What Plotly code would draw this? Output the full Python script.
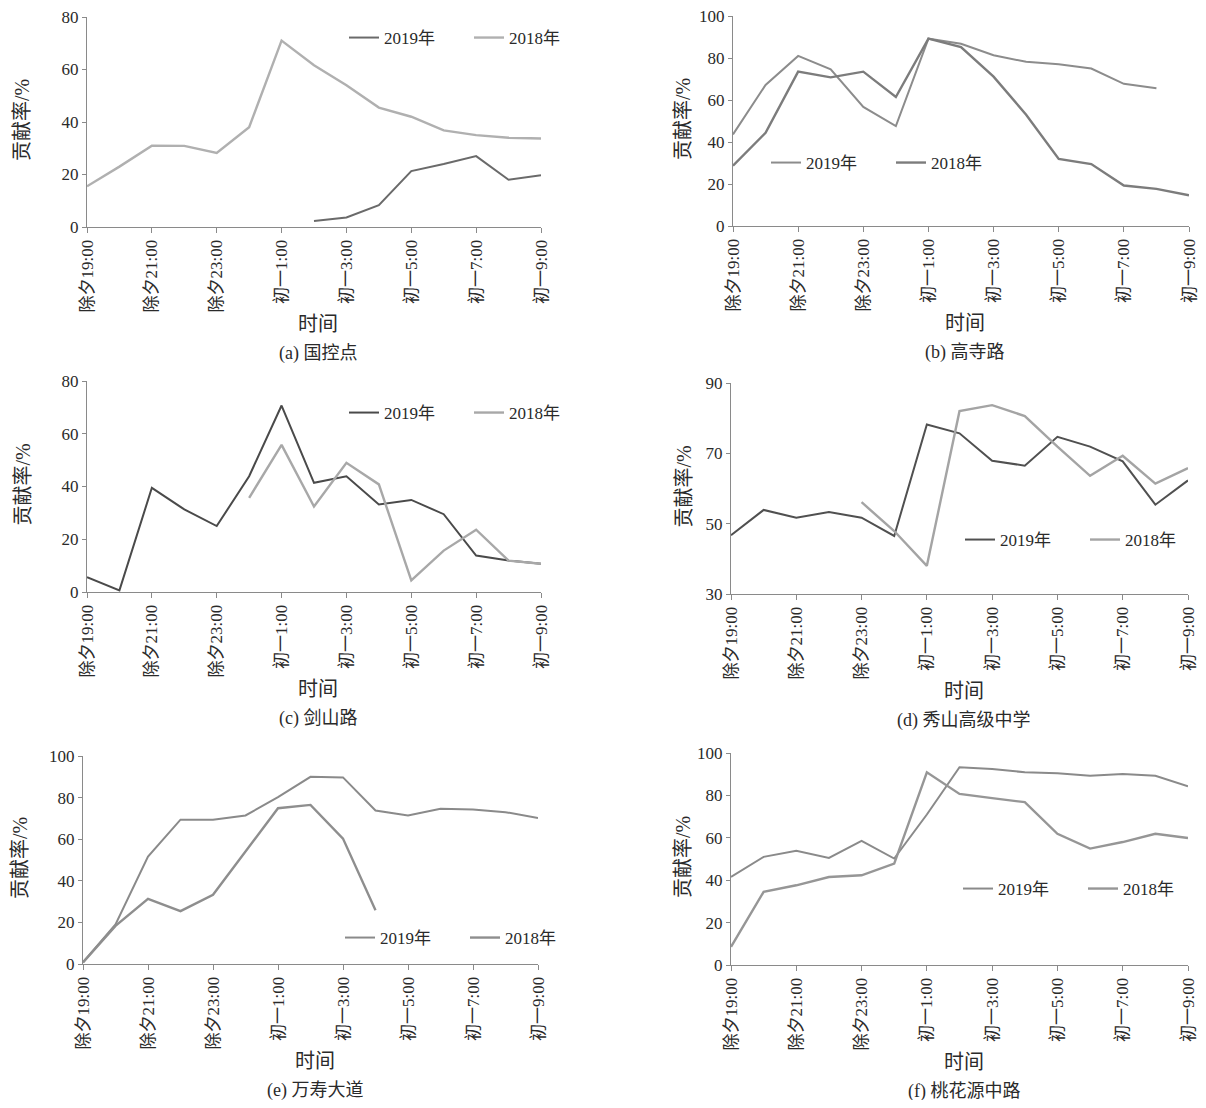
import plotly.graph_objects as go

OFF = 8                     # default page margin of the html body
FW, FH = 1198, 1092         # figure size so that it fits the 1206x1108 window

hours = ["除夕19:00", "除夕20:00", "除夕21:00", "除夕22:00", "除夕23:00",
         "初一0:00", "初一1:00", "初一2:00", "初一3:00", "初一4:00",
         "初一5:00", "初一6:00", "初一7:00", "初一8:00", "初一9:00"]
tick_labels = hours[::2]

series_names = ["2019年", "2018年"]
captions = ["(a) 国控点", "(b) 高寺路", "(c) 剑山路", "(d) 秀山高级中学", "(e) 万寿大道", "(f) 桃花源中路"]

N = None
a_2019 = [N, N, N, N, N, N, N, 2.3, 3.6, 8.3, 21.3, 24, 27, 18, 19.7]
a_2018 = [15.5, 23, 31, 30.9, 28.2, 38, 71, 61.6, 54, 45.5, 42, 36.8, 35, 34, 33.7]

b_2019 = [43.6, 67.2, 81, 74.6, 56.7, 47.6, 89.2, 86.8, 81.3, 78.2, 77, 75, 67.7, 65.6, N]
b_2018 = [28.7, 44.4, 73.5, 70.8, 73.5, 61.4, 89.2, 85.2, 71.1, 53, 31.9, 29.5, 19.3, 17.7, 14.6]

c_2019 = [5.6, 0.6, 39.5, 31.3, 25, 43.9, 70.7, 41.4, 43.9, 33.2, 34.9, 29.5, 13.8, 11.9, 10.7]
c_2018 = [N, N, N, N, N, 35.7, 55.8, 32.4, 49, 40.8, 4.4, 15.7, 23.6, 11.9, 10.7]

d_2019 = [46.7, 53.9, 51.7, 53.3, 51.7, 46.5, 78.2, 75.7, 67.9, 66.5, 74.7, 71.9, 67.7, 55.4, 62.3]
d_2018 = [N, N, N, N, 56.1, 47.9, 38, 82, 83.7, 80.6, 71.9, 63.6, 69.3, 61.4, 65.8]

e_2019 = [0.8, 19, 51.6, 69.4, 69.4, 71.4, 80.2, 90, 89.7, 73.8, 71.4, 74.6, 74.3, 73, 70.2]
e_2018 = [0.8, 18.3, 31.3, 25.4, 33.3, 54, 74.9, 76.5, 60.3, 25.9, N, N, N, N, N]

f_2019 = [41.5, 51, 53.9, 50.5, 58.5, 50.2, 71, 93.3, 92.5, 90.9, 90.4, 89.3, 90.1, 89.3, 84.3]
f_2018 = [8.6, 34.5, 37.6, 41.5, 42.3, 47.8, 90.9, 80.7, 78.7, 76.8, 61.9, 54.9, 58, 61.9, 59.9]

panel_data = [(a_2019, a_2018), (b_2019, b_2018), (c_2019, c_2018),
              (d_2019, d_2018), (e_2019, e_2018), (f_2019, f_2018)]

# layout in page pixels: x0, x1, ytop, ybottom, ymin, ymax
panels = [
    (87, 541, 17, 227, 0, 80),
    (733, 1189, 16, 226, 0, 100),
    (87, 541, 381, 592, 0, 80),
    (731, 1188, 383, 594, 30, 90),
    (83, 538, 756, 964, 0, 100),
    (731, 1188, 753, 965, 0, 100),
]
colors_2019 = ["#6a6a6a", "#8c8c8c", "#4a4a4a", "#505050", "#8a8a8a", "#8a8a8a"]
colors_2018 = ["#b0b0b0", "#7c7c7c", "#a8a8a8", "#a4a4a4", "#8e8e8e", "#969696"]
legend_pos = [(344, 38), (766, 163), (344, 413), (960, 540), (340, 938), (958, 889)]
label_x = [22, 683, 22, 683, 20, 683]

FONT = "Liberation Serif, Noto Sans CJK SC, serif"
TXT = "#2a2a2a"
AX = "#8a8a8a"

fig = go.Figure()
layout = dict(width=FW, height=FH, margin=dict(l=0, r=0, t=0, b=0, autoexpand=False),
              paper_bgcolor="white", plot_bgcolor="white",
              font=dict(family=FONT, size=16, color=TXT), annotations=[])

def px(x):
    return (x - OFF) / FW

def py(y):
    return 1 - (y - OFF) / FH

for i, ((s19, s18), (x0, x1, yt, yb, ymin, ymax)) in enumerate(zip(panel_data, panels)):
    k = "" if i == 0 else str(i + 1)
    lg = "legend" if i == 0 else "legend" + str(i + 1)
    for vals, name, col, w in [(s19, series_names[0], colors_2019[i], 2.0),
                               (s18, series_names[1], colors_2018[i], 2.4)]:
        fig.add_trace(go.Scatter(x=hours, y=vals, mode="lines", name=name,
                                 line=dict(color=col, width=w),
                                 xaxis="x" + k, yaxis="y" + k, legend=lg,
                                 connectgaps=False))
    layout["xaxis" + k] = dict(domain=[px(x0), px(x1)], anchor="y" + k, automargin=False,
                               type="category", categoryorder="array", categoryarray=hours,
                               range=[0, 14], tickvals=tick_labels, ticktext=tick_labels,
                               tickangle=-90, showgrid=False, zeroline=False,
                               showline=True, linecolor=AX, linewidth=1,
                               ticks="outside", ticklen=5, tickcolor=AX,
                               ticklabeloverflow="allow",
                               tickfont=dict(size=17, family=FONT, color=TXT))
    layout["yaxis" + k] = dict(domain=[py(yb), py(yt)], anchor="x" + k, automargin=False,
                               range=[ymin, ymax], dtick=20, tick0=ymin,
                               showgrid=False, zeroline=False,
                               showline=True, linecolor=AX, linewidth=1,
                               ticks="outside", ticklen=4, tickcolor=AX,
                               ticklabeloverflow="allow",
                               tickfont=dict(size=17, family=FONT, color=TXT))
    lx, ly = legend_pos[i]
    layout[lg] = dict(x=px(lx), y=py(ly), xanchor="left", yanchor="middle",
                      orientation="h", bgcolor="rgba(0,0,0,0)",
                      font=dict(size=17, family=FONT, color=TXT),
                      entrywidth=80, itemwidth=30, tracegroupgap=0)
    cx = (x0 + x1) / 2
    layout["annotations"].append(dict(text="贡献率/%", textangle=-90, x=px(label_x[i]),
                                      y=py((yt + yb) / 2 - 2), xref="paper", yref="paper",
                                      xanchor="center", yanchor="middle",
                                      showarrow=False, font=dict(size=20, color=TXT)))
    layout["annotations"].append(dict(text="时间", x=px(cx + 4), y=py(yb + 97),
                                      xref="paper", yref="paper", showarrow=False,
                                      xanchor="center", yanchor="middle",
                                      font=dict(size=20, color=TXT)))
    layout["annotations"].append(dict(text=captions[i], x=px(cx + 4), y=py(yb + 126),
                                      xref="paper", yref="paper", showarrow=False,
                                      xanchor="center", yanchor="middle",
                                      font=dict(size=18, color=TXT)))

fig.update_layout(**layout)
fig.write_html("out.html")
